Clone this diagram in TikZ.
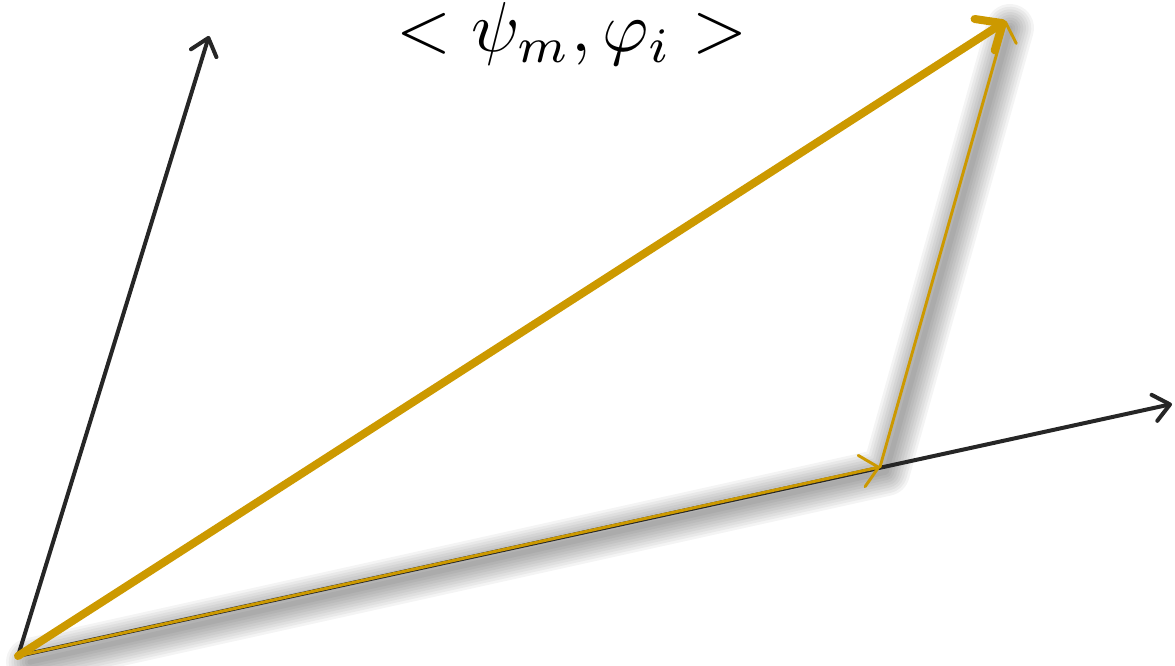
\documentclass[tikz,border=0pt]{standalone}
\usepackage{amsmath}
\usepackage{xcolor}
\usepackage{tikz}
\usetikzlibrary{arrows.meta}
\definecolor{gold}{RGB}{204,153,0}
\definecolor{axisgray}{RGB}{38,38,38}

\begin{document}
\begin{tikzpicture}[x=0.75pt,y=-0.75pt,%
% common options for the two axes:
axis/.style = {draw=axisgray, line width=3pt, line cap=round,
            -{Straight Barb[round,length=12pt,width=20pt,line width=3pt]}},
% common options for the gold vectors:
sumvec/.style = {draw=gold, line width=6pt, line cap=round,
            -{Straight Barb[round,length=16pt,width=28pt,line width=6pt]}},
partvec/.style = {draw=gold, line width=2.2pt, line cap=round,
            -{Straight Barb[round,length=13pt,width=24pt,line width=2.2pt]}},
% blurred shadow under the parts:
shade/.style = {draw=black, line cap=round, line join=round}]
\useasboundingbox (0,0) rectangle (1175,666);
\coordinate (O) at (18,656);
\coordinate (Y) at (209,36);
\coordinate (X) at (1172,404);
\coordinate (P) at (880,467);
\coordinate (T) at (1006,21);
\coordinate (Os) at (30,662);
\coordinate (Ps) at (886,472);
\coordinate (Ts) at (1010,28);
\foreach \w in {36,32,...,4}
  \draw[shade, line width=\w pt, opacity=0.045] (Os) -- (Ps) -- (Ts);
\node[anchor=base, scale=5.3, inner sep=0] (lbl) at (572,52) {$<\psi_m,\varphi_i>$};
\draw[axis] (O) to (Y);
\draw[axis] (O) to (X);
\draw[sumvec] (O) to (T);
\draw[partvec] (O) to (P);
\draw[partvec] (P) to (T);
\end{tikzpicture}
\end{document}
